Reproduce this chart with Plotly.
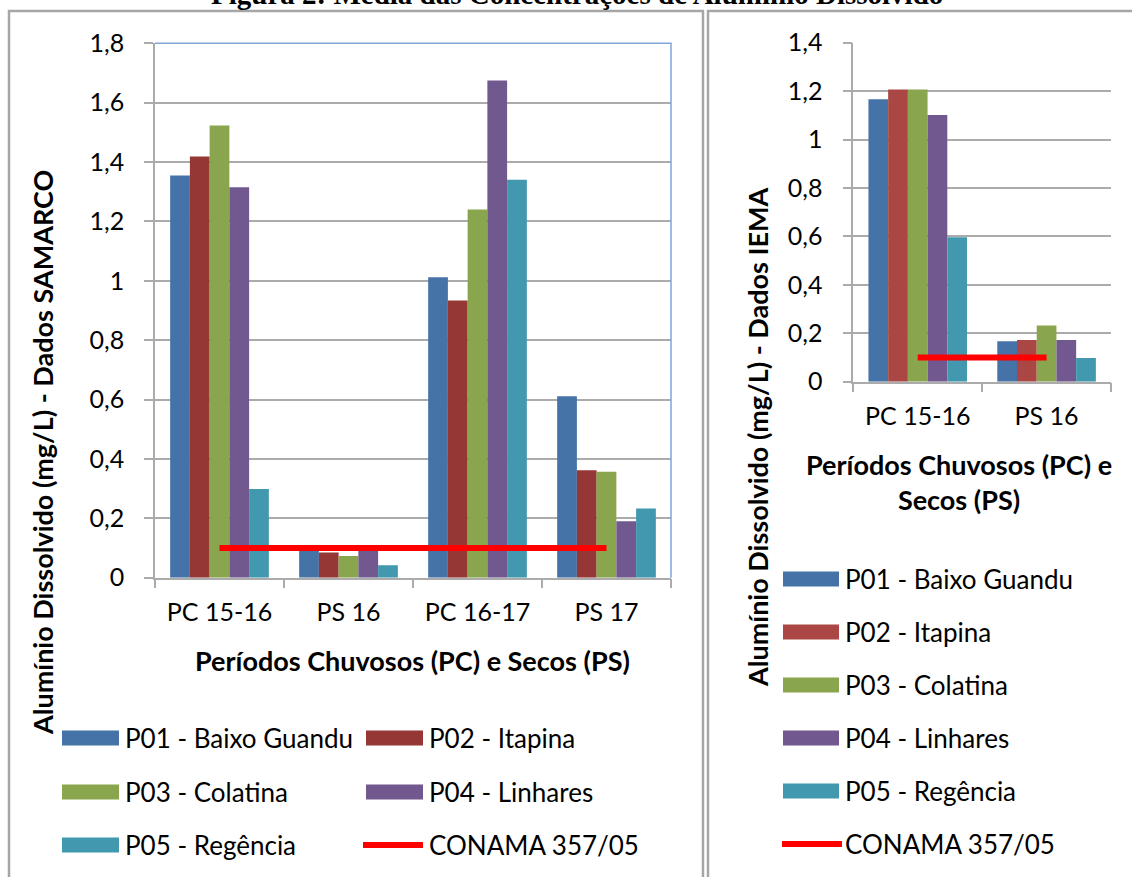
import plotly.graph_objects as go

# ---------------- data ----------------
periods_samarco = ["PC 15-16", "PS 16", "PC 16-17", "PS 17"]
periods_iema = ["PC 15-16", "PS 16"]
station_names = ["P01 - Baixo Guandu", "P02 - Itapina", "P03 - Colatina",
                 "P04 - Linhares", "P05 - Regência"]
limit_name = "CONAMA 357/05"
limit_value = 0.1

samarco_p01 = [1.355, 0.093, 1.012, 0.611]
samarco_p02 = [1.419, 0.085, 0.934, 0.362]
samarco_p03 = [1.523, 0.073, 1.240, 0.357]
samarco_p04 = [1.315, 0.093, 1.675, 0.190]
samarco_p05 = [0.299, 0.042, 1.340, 0.233]

iema_p01 = [1.166, 0.167]
iema_p02 = [1.207, 0.172]
iema_p03 = [1.207, 0.232]
iema_p04 = [1.101, 0.172]
iema_p05 = [0.597, 0.098]

samarco_series = [samarco_p01, samarco_p02, samarco_p03, samarco_p04, samarco_p05]
iema_series = [iema_p01, iema_p02, iema_p03, iema_p04, iema_p05]

# ---------------- style ----------------
W, H = 1132, 877
colors_left = ["#4572A7", "#953735", "#89A54E", "#71588F", "#4198AF"]
colors_right = ["#4572A7", "#AA4643", "#89A54E", "#71588F", "#4198AF"]
limit_color = "#FF0000"
grid = "#ABABAB"
FONT = "Lato"
TICKSIZE = 25
TITLESIZE = 27

def px_x(v):
    return v / W

def px_y(v):
    return 1 - v / H

fig = go.Figure()

for name, vals, col in zip(station_names, samarco_series, colors_left):
    fig.add_trace(go.Bar(x=periods_samarco, y=vals, name=name, marker_color=col,
                         marker_line_width=0, xaxis="x", yaxis="y", showlegend=False))
fig.add_trace(go.Scatter(x=periods_samarco, y=[limit_value] * len(periods_samarco),
                         name=limit_name, mode="lines",
                         line=dict(color=limit_color, width=6),
                         xaxis="x", yaxis="y", showlegend=False))

for name, vals, col in zip(station_names, iema_series, colors_right):
    fig.add_trace(go.Bar(x=periods_iema, y=vals, name=name, marker_color=col,
                         marker_line_width=0, xaxis="x2", yaxis="y2", showlegend=False))
fig.add_trace(go.Scatter(x=periods_iema, y=[limit_value] * len(periods_iema),
                         name=limit_name, mode="lines",
                         line=dict(color=limit_color, width=6),
                         xaxis="x2", yaxis="y2", showlegend=False))

xL = [px_x(155), px_x(671)]
yL = [px_y(577.7), px_y(43.3)]
xR = [px_x(853.3), px_x(1111)]
yR = [px_y(381.7), px_y(42.7)]

common_x = dict(type="category", showline=True, linecolor=grid, linewidth=1.5,
                ticks="outside", tickson="boundaries", ticklen=9, tickwidth=1.5,
                tickcolor=grid, showgrid=False, zeroline=False, automargin=False,
                tickfont=dict(family=FONT, size=TICKSIZE, color="black"),
                ticklabelstandoff=12, fixedrange=True)
common_y = dict(showline=True, linecolor=grid, linewidth=1.5, ticks="outside",
                ticklen=9, tickwidth=1.5, tickcolor=grid, showgrid=True,
                gridcolor=grid, gridwidth=1.5, zeroline=False, dtick=0.2, tick0=0,
                automargin=False,
                tickfont=dict(family=FONT, size=TICKSIZE, color="black"),
                ticklabelstandoff=15, fixedrange=True)

fig.update_layout(
    width=W, height=H,
    margin=dict(l=0, r=0, t=0, b=0, pad=0, autoexpand=False),
    paper_bgcolor="white", plot_bgcolor="white",
    separators=",.",
    barmode="group", bargap=0.235, bargroupgap=0,
    xaxis=dict(domain=xL, anchor="y", range=[-0.5, 3.5], **common_x),
    yaxis=dict(domain=yL, anchor="x", range=[0, 1.8], **common_y),
    xaxis2=dict(domain=xR, anchor="y2", range=[-0.5, 1.5], **common_x),
    yaxis2=dict(domain=yR, anchor="x2", range=[0, 1.4], **common_y),
    showlegend=False,
)

shapes = []
# chart-area frames
shapes.append(dict(type="rect", xref="paper", yref="paper",
                   x0=px_x(9), x1=px_x(703), y0=-0.02, y1=px_y(11),
                   line=dict(color="#A6A6A6", width=2.5), layer="below"))
shapes.append(dict(type="rect", xref="paper", yref="paper",
                   x0=px_x(708), x1=1.02, y0=-0.02, y1=px_y(11),
                   line=dict(color="#A6A6A6", width=2.5), layer="below"))
# blue plot-area border (top & right) of left chart
shapes.append(dict(type="path", xref="paper", yref="paper",
                   path=f"M {xL[0]},{yL[1]} L {xL[1]},{yL[1]} L {xL[1]},{yL[0]}",
                   line=dict(color="#7EA6DA", width=1.5), layer="above"))

annotations = []
# figure title (cut at the top edge, as in the source)
annotations.append(dict(text="<b>Figura 2: Média das Concentrações de Alumínio Dissolvido</b>",
                        xref="paper", yref="paper", x=px_x(577), y=px_y(12),
                        xanchor="center", yanchor="bottom", showarrow=False,
                        font=dict(family="Liberation Serif", size=29, color="black")))
# axis titles
annotations.append(dict(text="<b>Períodos Chuvosos (PC) e Secos (PS)</b>",
                        xref="paper", yref="paper", x=px_x(412), y=px_y(660),
                        xanchor="center", yanchor="middle", showarrow=False,
                        font=dict(family=FONT, size=TITLESIZE, color="black")))
annotations.append(dict(text="<b>Períodos Chuvosos (PC) e<br>Secos (PS)</b>",
                        xref="paper", yref="paper", x=px_x(959), y=px_y(482),
                        xanchor="center", yanchor="middle", showarrow=False,
                        font=dict(family=FONT, size=TITLESIZE, color="black")))
annotations.append(dict(text="<b>Alumínio Dissolvido (mg/L) - Dados SAMARCO</b>",
                        xref="paper", yref="paper", x=px_x(42), y=px_y(453),
                        xanchor="center", yanchor="middle", textangle=-90, showarrow=False,
                        font=dict(family=FONT, size=TITLESIZE, color="black")))
annotations.append(dict(text="<b>Alumínio Dissolvido (mg/L) - Dados IEMA</b>",
                        xref="paper", yref="paper", x=px_x(757), y=px_y(437),
                        xanchor="center", yanchor="middle", textangle=-90, showarrow=False,
                        font=dict(family=FONT, size=TITLESIZE, color="black")))

# legends (drawn with shapes + text)
LEG_FONT = dict(family=FONT, size=26, color="black")
left_entries = list(zip(station_names, colors_left)) + [(limit_name, None)]
left_pos = [(62, 738), (366, 738), (62, 792), (366, 792), (62, 845), (366, 845)]
for (name, col), (lx, ly) in zip(left_entries, left_pos):
    if col is None:
        shapes.append(dict(type="line", xref="paper", yref="paper",
                           x0=px_x(lx - 3), x1=px_x(lx + 57), y0=px_y(ly), y1=px_y(ly),
                           line=dict(color=limit_color, width=6)))
    else:
        shapes.append(dict(type="rect", xref="paper", yref="paper",
                           x0=px_x(lx), x1=px_x(lx + 57), y0=px_y(ly + 7.5), y1=px_y(ly - 7.5),
                           fillcolor=col, line=dict(width=0)))
    annotations.append(dict(text=name, xref="paper", yref="paper",
                            x=px_x(lx + 61), y=px_y(ly), xanchor="left", yanchor="middle",
                            showarrow=False, font=LEG_FONT))

right_entries = list(zip(station_names, colors_right)) + [(limit_name, None)]
right_rows = [579, 632, 685, 738, 791, 844]
for (name, col), ly in zip(right_entries, right_rows):
    lx = 783
    if col is None:
        shapes.append(dict(type="line", xref="paper", yref="paper",
                           x0=px_x(lx - 1), x1=px_x(lx + 59), y0=px_y(ly), y1=px_y(ly),
                           line=dict(color=limit_color, width=6)))
    else:
        shapes.append(dict(type="rect", xref="paper", yref="paper",
                           x0=px_x(lx), x1=px_x(lx + 56), y0=px_y(ly + 7.5), y1=px_y(ly - 7.5),
                           fillcolor=col, line=dict(width=0)))
    annotations.append(dict(text=name, xref="paper", yref="paper",
                            x=px_x(lx + 60), y=px_y(ly), xanchor="left", yanchor="middle",
                            showarrow=False, font=LEG_FONT))

fig.update_layout(shapes=shapes, annotations=annotations)
# remove the default 8px page margin so the figure sits at the window's top-left corner
fig.write_html("out.html",
               config={"displayModeBar": False},
               post_script="document.body.style.margin='0px';document.body.style.overflow='hidden';")
